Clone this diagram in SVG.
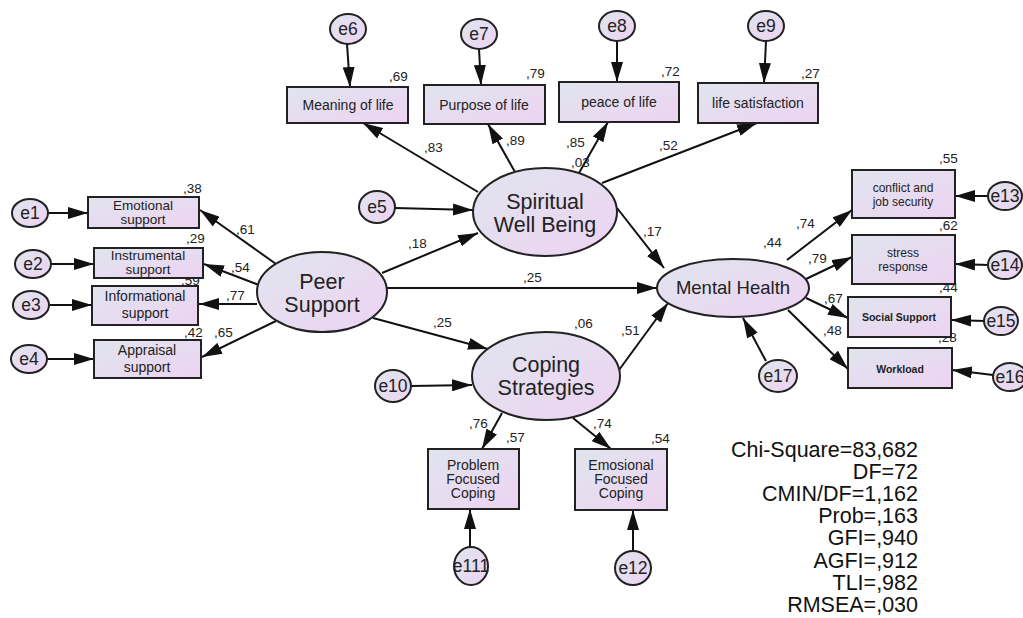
<svg xmlns="http://www.w3.org/2000/svg" width="1023" height="618" viewBox="0 0 1023 618">
<defs>
<linearGradient id="g" x1="0" y1="0" x2="1" y2="1">
<stop offset="0" stop-color="#e0e5ee"/>
<stop offset="1" stop-color="#edd3f2"/>
</linearGradient>
<marker id="ah" viewBox="0 0 20 12" refX="20" refY="6" markerWidth="20" markerHeight="12" markerUnits="userSpaceOnUse" orient="auto">
<path d="M0,0 L20,6 L0,12 z" fill="#111"/>
</marker>
</defs>
<style>
.n{fill:url(#g);stroke:#222;stroke-width:2}
.t{font-family:"Liberation Sans",Arial,sans-serif;fill:#222;text-anchor:middle}
.lbl{font-family:"Liberation Sans",Arial,sans-serif;fill:#222;font-size:13.5px}
.c line{stroke:#111;stroke-width:2;marker-end:url(#ah)}
.e{font-size:17.5px}
.box{font-size:14px}
.lat{font-size:21.5px}
.st{font-family:"Liberation Sans",Arial,sans-serif;fill:#111;font-size:21.5px;text-anchor:end}
</style>
<rect width="1023" height="618" fill="#fff"/>

<g class="c" id="connectors">
<line x1="48" y1="213" x2="88" y2="213"/>
<line x1="51" y1="264" x2="94" y2="264"/>
<line x1="49" y1="305" x2="92" y2="305"/>
<line x1="47" y1="359" x2="94" y2="359"/>
<line x1="276" y1="264" x2="200" y2="210"/>
<line x1="259" y1="285" x2="204" y2="264"/>
<line x1="257" y1="304" x2="199" y2="304"/>
<line x1="276" y1="321" x2="202" y2="357"/>
<line x1="347" y1="44" x2="350" y2="87"/>
<line x1="479" y1="49" x2="481" y2="85"/>
<line x1="617" y1="41" x2="617" y2="82"/>
<line x1="766" y1="41" x2="764" y2="83"/>
<line x1="478" y1="192" x2="363" y2="123"/>
<line x1="515" y1="172" x2="488" y2="124"/>
<line x1="579" y1="173" x2="608" y2="122"/>
<line x1="602" y1="183" x2="757" y2="123"/>
<line x1="617" y1="208" x2="664" y2="268"/>
<line x1="395" y1="208" x2="473" y2="210"/>
<line x1="382" y1="273" x2="478" y2="233"/>
<line x1="387" y1="288" x2="657" y2="288"/>
<line x1="373" y1="318" x2="488" y2="349"/>
<line x1="411" y1="386" x2="472" y2="385"/>
<line x1="619" y1="370" x2="668" y2="303"/>
<line x1="766" y1="361" x2="743" y2="318"/>
<line x1="787" y1="260" x2="852" y2="210"/>
<line x1="806" y1="279" x2="852" y2="257"/>
<line x1="806" y1="298" x2="848" y2="318"/>
<line x1="788" y1="310" x2="848" y2="369"/>
<line x1="989" y1="196" x2="955" y2="196"/>
<line x1="989" y1="265" x2="955" y2="264"/>
<line x1="985" y1="321" x2="951" y2="320"/>
<line x1="993" y1="375" x2="952" y2="370"/>
<line x1="502" y1="413" x2="482" y2="449"/>
<line x1="573" y1="418" x2="611" y2="449"/>
<line x1="470" y1="547" x2="470" y2="509"/>
<line x1="633" y1="551" x2="633" y2="510"/>
</g>

<g id="path-labels" class="lbl">
<text x="236" y="234">,61</text>
<text x="231" y="272">,54</text>
<text x="226" y="300">,77</text>
<text x="214" y="337">,65</text>
<text x="424" y="152">,83</text>
<text x="506" y="145">,89</text>
<text x="566" y="147">,85</text>
<text x="571" y="167">,03</text>
<text x="659" y="150">,52</text>
<text x="643" y="236">,17</text>
<text x="408" y="248">,18</text>
<text x="523" y="282">,25</text>
<text x="433" y="327">,25</text>
<text x="574" y="328">,06</text>
<text x="621" y="335">,51</text>
<text x="763" y="247">,44</text>
<text x="796" y="228">,74</text>
<text x="808" y="263">,79</text>
<text x="824" y="303">,67</text>
<text x="823" y="335">,48</text>
<text x="469" y="428">,76</text>
<text x="506" y="442">,57</text>
<text x="593" y="428">,74</text>
<text x="651" y="443">,54</text>
<text x="183" y="193">,38</text>
<text x="186" y="243">,29</text>
<text x="181" y="285">,59</text>
<text x="184" y="337">,42</text>
<text x="389" y="81">,69</text>
<text x="526" y="78">,79</text>
<text x="661" y="76">,72</text>
<text x="801" y="78">,27</text>
<text x="939" y="163">,55</text>
<text x="939" y="230">,62</text>
<text x="939" y="292">,44</text>
<text x="938" y="342">,28</text>
</g>

<g id="e1"><ellipse class="n" cx="30" cy="213" rx="18" ry="14"/><text class="t e" x="30" y="219">e1</text></g>
<g id="e2"><ellipse class="n" cx="33" cy="264" rx="18" ry="14"/><text class="t e" x="33" y="270">e2</text></g>
<g id="e3"><ellipse class="n" cx="31" cy="305" rx="18" ry="14"/><text class="t e" x="31" y="311">e3</text></g>
<g id="e4"><ellipse class="n" cx="29" cy="359" rx="18" ry="14"/><text class="t e" x="29" y="365">e4</text></g>

<g id="emotional"><rect class="n" x="88" y="197" width="111" height="31"/><text class="t" font-size="13.5" x="143" y="210">Emotional</text><text class="t" font-size="13.5" x="143" y="224">support</text></g>
<g id="instrumental"><rect class="n" x="94" y="248" width="109" height="30"/><text class="t" font-size="13.5" x="148" y="260">Instrumental</text><text class="t" font-size="13.5" x="148" y="274">support</text></g>
<g id="informational"><rect class="n" x="92" y="286" width="106" height="39"/><text class="t box" x="145" y="301">Informational</text><text class="t box" x="145" y="318">support</text></g>
<g id="appraisal"><rect class="n" x="94" y="340" width="107" height="38"/><text class="t box" x="147" y="355">Appraisal</text><text class="t box" x="147" y="372">support</text></g>

<g id="peer"><ellipse class="n" cx="322" cy="292" rx="65" ry="40"/><text class="t lat" x="322" y="289">Peer</text><text class="t lat" x="322" y="312">Support</text></g>

<g id="e6"><ellipse class="n" cx="348" cy="29" rx="18" ry="15"/><text class="t e" x="348" y="35">e6</text></g>
<g id="e7"><ellipse class="n" cx="479" cy="34" rx="18" ry="15"/><text class="t e" x="479" y="40">e7</text></g>
<g id="e8"><ellipse class="n" cx="617" cy="26" rx="18" ry="15"/><text class="t e" x="617" y="32">e8</text></g>
<g id="e9"><ellipse class="n" cx="766" cy="26" rx="18" ry="15"/><text class="t e" x="766" y="32">e9</text></g>

<g id="meaning"><rect class="n" x="287" y="87" width="121" height="36"/><text class="t box" x="348" y="110">Meaning of life</text></g>
<g id="purpose"><rect class="n" x="424" y="85" width="121" height="39"/><text class="t box" x="484" y="110">Purpose of life</text></g>
<g id="peace"><rect class="n" x="559" y="82" width="120" height="40"/><text class="t box" x="619" y="107">peace of life</text></g>
<g id="lifesat"><rect class="n" x="698" y="83" width="120" height="40"/><text class="t box" x="758" y="108">life satisfaction</text></g>

<g id="swb"><ellipse class="n" cx="545" cy="212" rx="72" ry="44"/><text class="t lat" x="545" y="209">Spiritual</text><text class="t lat" x="545" y="232">Well Being</text></g>
<g id="e5"><ellipse class="n" cx="377" cy="207" rx="18" ry="16"/><text class="t e" x="377" y="213">e5</text></g>

<g id="coping"><ellipse class="n" cx="546" cy="376" rx="74" ry="44"/><text class="t lat" x="546" y="372">Coping</text><text class="t lat" x="546" y="395">Strategies</text></g>
<g id="e10"><ellipse class="n" cx="393" cy="386" rx="18" ry="16"/><text class="t e" x="393" y="392">e10</text></g>

<g id="mh"><ellipse class="n" cx="733" cy="288" rx="76" ry="29"/><text class="t" font-size="18.5" x="733" y="294">Mental Health</text></g>
<g id="e17"><ellipse class="n" cx="778" cy="376" rx="19" ry="16"/><text class="t e" x="778" y="382">e17</text></g>

<g id="conflict"><rect class="n" x="852" y="170" width="103" height="48"/><text class="t" font-size="12" x="903" y="192">conflict and</text><text class="t" font-size="12" x="903" y="206">job security</text></g>
<g id="stress"><rect class="n" x="852" y="235" width="103" height="49"/><text class="t" font-size="12" x="903" y="257">stress</text><text class="t" font-size="12" x="903" y="271">response</text></g>
<g id="social"><rect class="n" x="848" y="297" width="103" height="40"/><text class="t" font-size="10.5" font-weight="bold" fill="#333" x="899" y="321">Social Support</text></g>
<g id="workload"><rect class="n" x="848" y="348" width="104" height="40"/><text class="t" font-size="10.5" font-weight="bold" fill="#333" x="900" y="373">Workload</text></g>

<g id="e13"><ellipse class="n" cx="1005" cy="196" rx="17" ry="14"/><text class="t e" x="1005" y="202">e13</text></g>
<g id="e14"><ellipse class="n" cx="1005" cy="265" rx="17" ry="14"/><text class="t e" x="1005" y="271">e14</text></g>
<g id="e15"><ellipse class="n" cx="1001" cy="321" rx="17" ry="14"/><text class="t e" x="1001" y="327">e15</text></g>
<g id="e16"><ellipse class="n" cx="1010" cy="377" rx="17" ry="14"/><text class="t e" x="1010" y="383">e16</text></g>

<g id="pfc"><rect class="n" x="428" y="449" width="91" height="60"/><text class="t box" x="473" y="470">Problem</text><text class="t box" x="473" y="484">Focused</text><text class="t box" x="473" y="498">Coping</text></g>
<g id="efc"><rect class="n" x="575" y="449" width="92" height="61"/><text class="t box" x="621" y="470">Emosional</text><text class="t box" x="621" y="484">Focused</text><text class="t box" x="621" y="498">Coping</text></g>
<g id="e111"><ellipse class="n" cx="471" cy="566" rx="17" ry="19"/><text class="t e" x="471" y="572">e111</text></g>
<g id="e12"><ellipse class="n" cx="633" cy="568" rx="18" ry="17"/><text class="t e" x="633" y="574">e12</text></g>

<g id="stats">
<text class="st" x="918" y="457">Chi-Square=83,682</text>
<text class="st" x="918" y="479">DF=72</text>
<text class="st" x="918" y="501">CMIN/DF=1,162</text>
<text class="st" x="918" y="523">Prob=,163</text>
<text class="st" x="918" y="545">GFI=,940</text>
<text class="st" x="918" y="568">AGFI=,912</text>
<text class="st" x="918" y="590">TLI=,982</text>
<text class="st" x="918" y="612">RMSEA=,030</text>
</g>
</svg>
